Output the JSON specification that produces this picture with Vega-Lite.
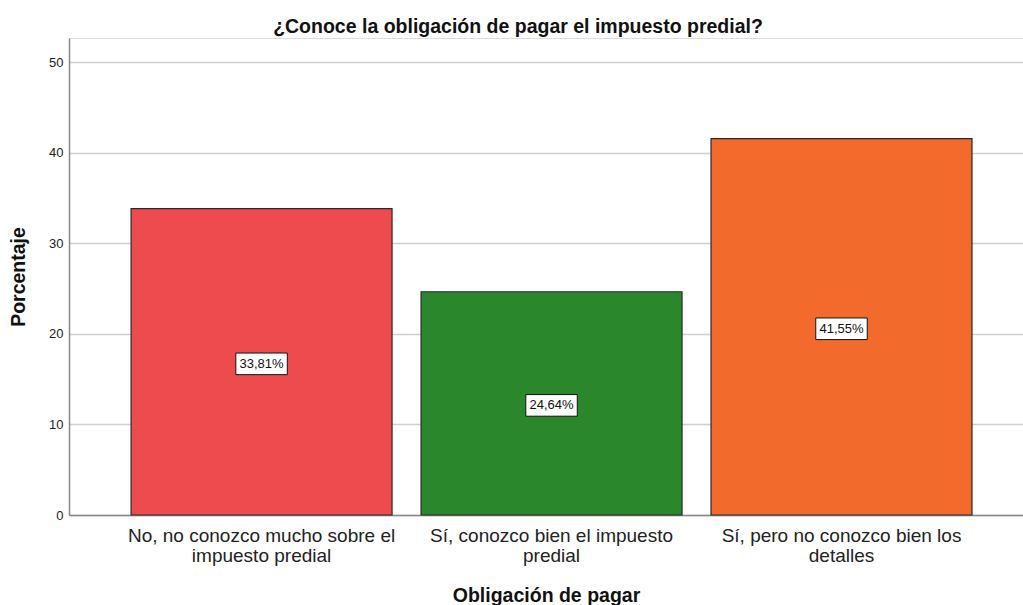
{
  "$schema": "https://vega.github.io/schema/vega-lite/v6.json",
  "width": 954,
  "height": 477,
  "autosize": {"type": "none"},
  "padding": {"left": 69, "top": 38, "right": 0, "bottom": 90},
  "background": "white",
  "title": {
    "text": "¿Conoce la obligación de pagar el impuesto predial?",
    "font": "Liberation Sans",
    "fontSize": 19.5,
    "fontWeight": "bold",
    "color": "#111111",
    "anchor": "middle",
    "dx": -28,
    "dy": 1,
    "offset": 2
  },
  "data": {
    "values": [
      {"categoria": "No, no conozco mucho sobre el impuesto predial", "porcentaje": 33.81, "etiqueta": "33,81%"},
      {"categoria": "Sí, conozco bien el impuesto predial", "porcentaje": 24.64, "etiqueta": "24,64%"},
      {"categoria": "Sí, pero no conozco bien los detalles", "porcentaje": 41.55, "etiqueta": "41,55%"}
    ]
  },
  "encoding": {
    "x": {
      "field": "categoria",
      "type": "nominal",
      "sort": null,
      "scale": {"paddingInner": 0.1, "paddingOuter": 0.195, "align": 0.549},
      "axis": {
        "title": "Obligación de pagar",
        "titleFont": "Liberation Sans",
        "titleFontSize": 19.5,
        "titleFontWeight": "bold",
        "titleColor": "#111111",
        "titlePadding": 21,
        "labelFont": "Liberation Sans",
        "labelFontSize": 19,
        "labelColor": "#222222",
        "labelAngle": 0,
        "labelPadding": 11,
        "labelLimit": 0,
        "labelLineHeight": 20,
        "labelExpr": "datum.value == 'No, no conozco mucho sobre el impuesto predial' ? ['No, no conozco mucho sobre el', 'impuesto predial'] : datum.value == 'Sí, conozco bien el impuesto predial' ? ['Sí, conozco bien el impuesto', 'predial'] : ['Sí, pero no conozco bien los', 'detalles']",
        "ticks": false,
        "domainColor": "#888888",
        "domainWidth": 1.5
      }
    }
  },
  "layer": [
    {
      "mark": {"type": "bar", "stroke": "#2a2a2a", "strokeWidth": 1.2},
      "encoding": {
        "y": {
          "field": "porcentaje",
          "type": "quantitative",
          "scale": {"domain": [0, 52.65], "nice": false},
          "axis": {
            "title": "Porcentaje",
            "titleFont": "Liberation Sans",
            "titleFontSize": 19.5,
            "titleFontWeight": "bold",
            "titleColor": "#111111",
            "titlePadding": 20,
            "values": [0, 10, 20, 30, 40, 50],
            "labelFont": "Liberation Sans",
            "labelFontSize": 13,
            "labelColor": "#222222",
            "labelPadding": 6,
            "ticks": false,
            "grid": true,
            "gridColor": "#d0d0d0",
            "gridWidth": 1.5,
            "domainColor": "#888888",
            "domainWidth": 1.5
          }
        },
        "color": {
          "field": "categoria",
          "type": "nominal",
          "sort": null,
          "scale": {"range": ["#ED4B4E", "#2A872C", "#F26A2C"]},
          "legend": null
        }
      }
    },
    {
      "transform": [{"calculate": "datum.porcentaje / 2", "as": "mitad"}],
      "mark": {
        "type": "point",
        "shape": "M-1,-0.42L1,-0.42L1,0.42L-1,0.42Z",
        "size": 2650,
        "filled": true,
        "fill": "white",
        "stroke": "#111111",
        "strokeWidth": 1,
        "opacity": 1,
        "yOffset": 2
      },
      "encoding": {
        "y": {"field": "mitad", "type": "quantitative"}
      }
    },
    {
      "transform": [{"calculate": "datum.porcentaje / 2", "as": "mitad"}],
      "mark": {
        "type": "text",
        "font": "Liberation Sans",
        "fontSize": 13,
        "color": "#111111",
        "baseline": "middle",
        "align": "center",
        "yOffset": 2
      },
      "encoding": {
        "y": {"field": "mitad", "type": "quantitative"},
        "text": {"field": "etiqueta"}
      }
    }
  ]
}
